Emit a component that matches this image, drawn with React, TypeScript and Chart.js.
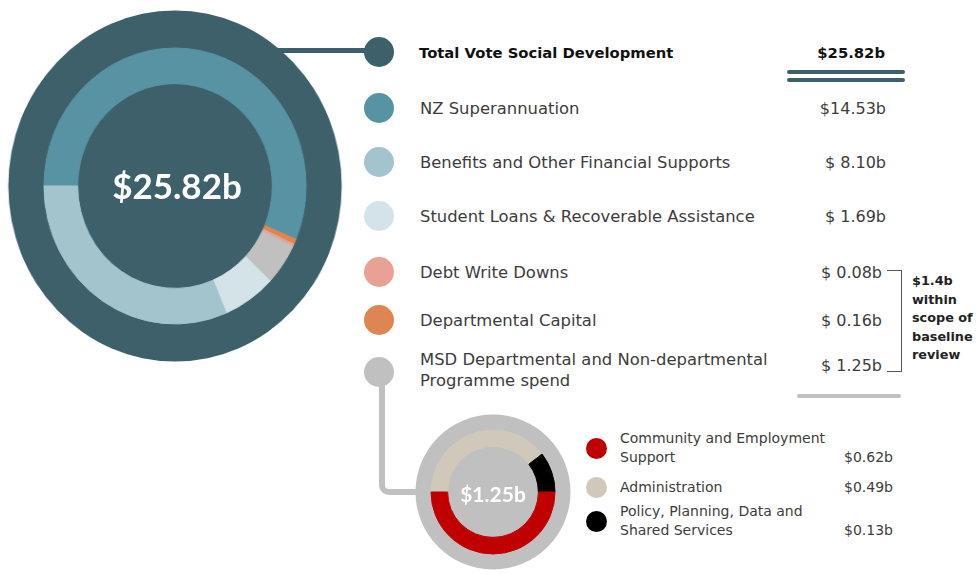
import React, { useEffect, useRef } from "react";
import { Chart, registerables } from "chart.js";

Chart.register(...registerables);

// ---------- DATA ----------
const totalLabel = "Total Vote Social Development";
const totalValueLabel = "$25.82b";
const centerLabel = "$25.82b";

const mainLabels = [
  "NZ Superannuation",
  "Benefits and Other Financial Supports",
  "Student Loans & Recoverable Assistance",
  "Debt Write Downs",
  "Departmental Capital",
  "MSD Departmental and Non-departmental\nProgramme spend",
];
const mainValues = [14.53, 8.1, 1.69, 0.08, 0.16, 1.25];
const mainValueLabels = ["$14.53b", "$ 8.10b", "$ 1.69b", "$ 0.08b", "$ 0.16b", "$ 1.25b"];
const mainColors = ["#5893a4", "#a4c4cd", "#d3e3e8", "#e8a194", "#dd8651", "#c0c0c0"];
// clockwise drawing order of the ring, starting at 9 o'clock
const mainRingOrder = [0, 4, 3, 5, 2, 1];

const bracketNote = ["$1.4b", "within", "scope of", "baseline", "review"];

const subCenterLabel = "$1.25b";
const subLabels = [
  "Community and Employment\nSupport",
  "Administration",
  "Policy, Planning, Data and\nShared Services",
];
const subValues = [0.62, 0.49, 0.13];
const subValueLabels = ["$0.62b", "$0.49b", "$0.13b"];
const subColors = ["#c00000", "#d0c8ba", "#000000"];
const subRingOrder = [1, 2, 0];

// ---------- STYLE ----------
const DARK = "#3d606b";
const GREY = "#c0c0c0";
const FONT = "'DejaVu Sans', sans-serif";
const NUMFONT = "Lato, 'DejaVu Sans', sans-serif";

const bgCircle = {
  id: "bgCircle",
  beforeDatasetsDraw(chart: any, _args: any, opts: any) {
    const { ctx, chartArea } = chart;
    const cx = (chartArea.left + chartArea.right) / 2;
    const cy = (chartArea.top + chartArea.bottom) / 2;
    ctx.save();
    ctx.fillStyle = opts.color;
    ctx.beginPath();
    ctx.arc(cx, cy, opts.radius, 0, Math.PI * 2);
    ctx.fill();
    ctx.restore();
  },
};

function Donut(props: {
  size: number;
  ringOuter: number;
  ringInner: number;
  bgRadius: number;
  bgColor: string;
  values: number[];
  colors: string[];
  labels: string[];
}) {
  const ref = useRef<HTMLCanvasElement | null>(null);
  useEffect(() => {
    if (!ref.current) return;
    const pad = props.size / 2 - props.ringOuter;
    const chart = new Chart(ref.current, {
      type: "doughnut",
      data: {
        labels: props.labels,
        datasets: [
          {
            data: props.values,
            backgroundColor: props.colors,
            borderColor: props.colors,
            borderWidth: 1,
            hoverOffset: 0,
          },
        ],
      },
      options: {
        responsive: false,
        animation: false,
        events: [],
        rotation: -90,
        cutout: ((props.ringInner / (props.ringOuter - 0.5)) * 100).toFixed(2) + "%",
        layout: { padding: pad - 0.5 },
        plugins: {
          legend: { display: false },
          tooltip: { enabled: false },
          bgCircle: { color: props.bgColor, radius: props.bgRadius },
        } as any,
      },
      plugins: [bgCircle as any],
    });
    return () => chart.destroy();
  }, []);
  return <canvas ref={ref} width={props.size} height={props.size} style={{ display: "block" }} />;
}

const abs = (s: React.CSSProperties): React.CSSProperties => ({ position: "absolute", ...s });

export default function App() {
  const mainRowY = [108, 162, 216, 272, 320, 370];
  const mainValY = [108, 162, 216, 272, 320, 365];
  const mainValRight = [886, 886, 886, 882, 882, 882];
  const subRowY = [448, 487, 521];
  const subValY = [457, 487, 530];

  return (
    <div
      style={abs({
        left: 0,
        top: 0,
        width: 976,
        height: 575,
        background: "#ffffff",
        overflow: "hidden",
        fontFamily: FONT,
      })}
    >
      {/* connector line from big circle to total dot */}
      <div style={abs({ left: 270, top: 48, width: 110, height: 5, background: DARK })} />

      {/* grey connector from MSD dot to small donut */}
      <div
        style={abs({
          left: 379,
          top: 372,
          width: 50,
          height: 117,
          borderLeft: `6px solid ${GREY}`,
          borderBottom: `6px solid ${GREY}`,
          borderBottomLeftRadius: 10,
        })}
      />

      {/* big donut */}
      <div
        style={abs({
          left: 175 - 176,
          top: 185.5 - 176,
          width: 352,
          height: 352,
          transform: "scaleX(0.95)",
          transformOrigin: "50% 50%",
        })}
      >
        <Donut
          size={352}
          ringOuter={138}
          ringInner={102}
          bgRadius={175.5}
          bgColor={DARK}
          values={mainRingOrder.map((i) => mainValues[i])}
          colors={mainRingOrder.map((i) => mainColors[i])}
          labels={mainRingOrder.map((i) => mainLabels[i])}
        />
      </div>
      <div
        style={abs({
          left: 77,
          top: 163,
          width: 200,
          textAlign: "center",
          color: "#ffffff",
          fontFamily: NUMFONT,
          fontWeight: 700,
          fontSize: 35,
          lineHeight: "44px",
        })}
      >
        {centerLabel}
      </div>

      {/* small donut */}
      <div style={abs({ left: 493 - 78, top: 492 - 78, width: 156, height: 156 })}>
        <Donut
          size={156}
          ringOuter={62}
          ringInner={45}
          bgRadius={77.5}
          bgColor={GREY}
          values={subRingOrder.map((i) => subValues[i])}
          colors={subRingOrder.map((i) => subColors[i])}
          labels={subRingOrder.map((i) => subLabels[i])}
        />
      </div>
      <div
        style={abs({
          left: 443,
          top: 480,
          width: 100,
          textAlign: "center",
          color: "#ffffff",
          fontFamily: NUMFONT,
          fontWeight: 700,
          fontSize: 21,
          lineHeight: "28px",
        })}
      >
        {subCenterLabel}
      </div>

      {/* total row */}
      <div style={abs({ left: 364, top: 37, width: 30, height: 30, borderRadius: "50%", background: DARK })} />
      <div
        style={abs({
          left: 419,
          top: 43,
          fontSize: 14.8,
          fontWeight: 700,
          color: "#111",
          lineHeight: "20px",
          whiteSpace: "nowrap",
        })}
      >
        {totalLabel}
      </div>
      <div
        style={abs({
          left: 700,
          width: 185,
          top: 43,
          textAlign: "right",
          fontSize: 14.8,
          fontWeight: 700,
          color: "#111",
          lineHeight: "20px",
        })}
      >
        {totalValueLabel}
      </div>
      <div style={abs({ left: 787, top: 70, width: 118, height: 4, borderRadius: 2, background: DARK })} />
      <div style={abs({ left: 787, top: 78, width: 118, height: 4, borderRadius: 2, background: DARK })} />

      {/* main legend rows */}
      {mainLabels.map((lab, i) => (
        <React.Fragment key={i}>
          <div
            style={abs({
              left: 364,
              top: mainRowY[i] - 15 + (i === 5 ? 2 : 0),
              width: 30,
              height: 30,
              borderRadius: "50%",
              background: mainColors[i],
            })}
          />
          <div
            style={abs({
              left: 420,
              top: mainRowY[i] - (lab.includes("\n") ? 21 : 10.5),
              fontSize: 16.4,
              color: "#3c3c3c",
              lineHeight: "21px",
              whiteSpace: "pre",
            })}
          >
            {lab}
          </div>
          <div
            style={abs({
              left: mainValRight[i] - 150,
              width: 150,
              top: mainValY[i] - 10.5,
              textAlign: "right",
              fontSize: 16,
              color: "#3c3c3c",
              lineHeight: "21px",
              whiteSpace: "pre",
            })}
          >
            {mainValueLabels[i]}
          </div>
        </React.Fragment>
      ))}

      {/* bracket */}
      <div
        style={abs({
          left: 887,
          top: 270,
          width: 14,
          height: 100,
          borderTop: "1.5px solid #555",
          borderRight: "1.5px solid #555",
          borderBottom: "1.5px solid #555",
        })}
      />
      <div
        style={abs({
          left: 912,
          top: 272,
          fontSize: 12.8,
          fontWeight: 700,
          color: "#222",
          lineHeight: "18.6px",
          whiteSpace: "pre",
        })}
      >
        {bracketNote.join("\n")}
      </div>
      <div style={abs({ left: 797, top: 394, width: 104, height: 4, borderRadius: 2, background: GREY })} />

      {/* small legend */}
      {subLabels.map((lab, i) => (
        <React.Fragment key={"s" + i}>
          <div
            style={abs({
              left: 586,
              top: subRowY[i] - 10,
              width: 21,
              height: 21,
              borderRadius: "50%",
              background: subColors[i],
            })}
          />
          <div
            style={abs({
              left: 620,
              top: subRowY[i] - (lab.includes("\n") ? 19 : 9.5),
              fontSize: 14,
              color: "#3c3c3c",
              lineHeight: "19px",
              whiteSpace: "pre",
            })}
          >
            {lab}
          </div>
          <div
            style={abs({
              left: 893 - 100,
              width: 100,
              top: subValY[i] - 9.5,
              textAlign: "right",
              fontSize: 14,
              color: "#3c3c3c",
              lineHeight: "19px",
            })}
          >
            {subValueLabels[i]}
          </div>
        </React.Fragment>
      ))}
    </div>
  );
}
